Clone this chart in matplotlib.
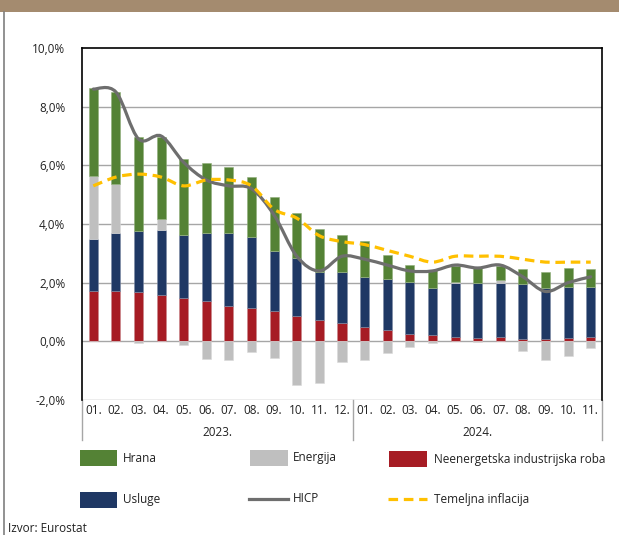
import numpy as np
import matplotlib
matplotlib.use("Agg")
import matplotlib.pyplot as plt
from matplotlib.path import Path
from matplotlib.patches import PathPatch, Rectangle
from matplotlib.lines import Line2D

plt.rcParams['font.family'] = ['Open Sans', 'DejaVu Sans']

months = ["01.", "02.", "03.", "04.", "05.", "06.", "07.", "08.", "09.", "10.", "11.", "12.",
          "01.", "02.", "03.", "04.", "05.", "06.", "07.", "08.", "09.", "10.", "11."]
years = ["2023.", "2024."]
yticklabels = ["-2,0%", "0,0%", "2,0%", "4,0%", "6,0%", "8,0%", "10,0%"]

neig = [1.70, 1.70, 1.67, 1.58, 1.49, 1.37, 1.21, 1.15, 1.02, 0.87, 0.73, 0.64,
        0.49, 0.40, 0.26, 0.20, 0.15, 0.12, 0.15, 0.08, 0.08, 0.10, 0.14]
services = [1.80, 2.00, 2.10, 2.21, 2.13, 2.32, 2.48, 2.41, 2.05, 1.96, 1.64, 1.72,
            1.71, 1.71, 1.76, 1.63, 1.83, 1.86, 1.83, 1.86, 1.75, 1.76, 1.72]
energy = [2.15, 1.65, -0.07, 0.37, -0.12, -0.60, -0.65, -0.38, -0.58, -1.50, -1.43, -0.71,
          -0.64, -0.39, -0.19, -0.07, 0.05, -0.03, 0.11, -0.32, -0.64, -0.49, -0.22]
food = [3.00, 3.15, 3.18, 2.79, 2.59, 2.40, 2.25, 2.03, 1.84, 1.54, 1.46, 1.27,
        1.22, 0.85, 0.59, 0.60, 0.55, 0.51, 0.49, 0.52, 0.54, 0.63, 0.60]
hicp = [8.6, 8.5, 6.9, 7.0, 6.1, 5.5, 5.3, 5.2, 4.3, 2.9, 2.4, 2.9,
        2.8, 2.6, 2.4, 2.4, 2.6, 2.5, 2.6, 2.2, 1.7, 2.0, 2.2]
core = [5.3, 5.6, 5.7, 5.6, 5.3, 5.5, 5.5, 5.3, 4.5, 4.2, 3.6, 3.4,
        3.3, 3.1, 2.9, 2.7, 2.9, 2.9, 2.9, 2.8, 2.7, 2.7, 2.7]

C_FOOD = "#548235"
C_ENERGY = "#bfbfbf"
C_NEIG = "#a61c24"
C_SERV = "#1f3864"
C_HICP = "#6e6e6e"
C_CORE = "#ffc000"

W, H = 619, 535
fig = plt.figure(figsize=(W / 100, H / 100), dpi=100)

# header band and left border
fig.patches.append(Rectangle((0, 1 - 12 / H), 1, 12 / H, transform=fig.transFigure,
                             facecolor="#a48b6f", edgecolor="none", zorder=0))
fig.lines.append(Line2D([4 / W, 4 / W], [0, 1 - 12 / H], transform=fig.transFigure,
                        color="#7f7f7f", lw=1.2))

ax = fig.add_axes([82 / W, 1 - 400 / H, 520 / W, 352 / H])
n = len(months)
x = np.arange(n)
ax.set_xlim(-0.5, n - 0.5)
ax.set_ylim(-2, 10)

for v in [-2, 0, 2, 4, 6, 8]:
    ax.axhline(v, color="#a6a6a6", lw=1.0, zorder=1)

neig_a = np.array(neig)
serv_a = np.array(services)
en_a = np.array(energy)
food_a = np.array(food)
en_pos = np.clip(en_a, 0, None)
en_neg = np.clip(en_a, None, 0)

bw = 0.40
kw = dict(width=bw, zorder=2, linewidth=0.4)
ax.bar(x, neig_a, color=C_NEIG, edgecolor="#c9868a", **kw)
ax.bar(x, serv_a, bottom=neig_a, color=C_SERV, edgecolor="#7d8aa3", **kw)
ax.bar(x, en_pos, bottom=neig_a + serv_a, color=C_ENERGY, edgecolor="#d9d9d9", **kw)
ax.bar(x, en_neg, color=C_ENERGY, edgecolor="#d9d9d9", **kw)
ax.bar(x, food_a, bottom=neig_a + serv_a + en_pos, color=C_FOOD, edgecolor="#8fae7a", **kw)


def smooth_path(xs, ys):
    pts = np.column_stack([xs, ys]).astype(float)
    verts = [pts[0]]
    codes = [Path.MOVETO]
    m = len(pts)
    for i in range(m - 1):
        p0 = pts[i - 1] if i > 0 else pts[i]
        p1 = pts[i]
        p2 = pts[i + 1]
        p3 = pts[i + 2] if i + 2 < m else pts[i + 1]
        c1 = p1 + (p2 - p0) / 6.0
        c2 = p2 - (p3 - p1) / 6.0
        verts += [c1, c2, p2]
        codes += [Path.CURVE4] * 3
    return Path(verts, codes)


ax.add_patch(PathPatch(smooth_path(x, hicp), facecolor="none", edgecolor=C_HICP,
                       lw=2.3, zorder=3, capstyle="round"))
ax.add_patch(PathPatch(smooth_path(x, core), facecolor="none", edgecolor=C_CORE,
                       lw=2.3, zorder=4, linestyle=(0, (3, 1.8))))

ax.set_xticks([])
ax.set_yticks([-2, 0, 2, 4, 6, 8, 10])
ax.set_yticklabels(yticklabels, fontsize=8.5, color="#222222")
ax.tick_params(axis="y", length=0, pad=12)
for s in ["left", "top", "right"]:
    ax.spines[s].set_color("black")
    ax.spines[s].set_linewidth(1.2)
ax.spines["bottom"].set_visible(False)

tr = ax.get_xaxis_transform()
for i, lab in enumerate(months):
    ax.text(i, -10 / 352, lab, transform=tr, ha="center", va="center",
            fontsize=8.5, color="#222222")
ax.text(5.5, -32 / 352, years[0], transform=tr, ha="center", va="center",
        fontsize=8.5, color="#222222")
ax.text(17, -32 / 352, years[1], transform=tr, ha="center", va="center",
        fontsize=8.5, color="#222222")
for xv in [-0.5, 11.5, n - 0.5]:
    ax.plot([xv, xv], [0, -40 / 352], transform=tr, color="#a6a6a6", lw=1.0,
            clip_on=False)

# legend
def fx(px):
    return px / W


def fy(py):
    return 1 - py / H


def patch(x0, x1, yc, color):
    fig.patches.append(Rectangle((fx(x0), fy(yc + 8)), fx(x1) - fx(x0), 16 / H,
                                 transform=fig.transFigure, facecolor=color,
                                 edgecolor="none"))


def label(x0, yc, txt):
    fig.text(fx(x0), fy(yc), txt, ha="left", va="center", fontsize=8.5, color="#222222")


patch(80, 117, 458, C_FOOD)
label(123, 458, "Hrana")
patch(250, 288, 458, C_ENERGY)
label(293, 458, "Energija")
patch(389, 427, 459, C_NEIG)
label(434, 459, "Neenergetska industrijska roba")
patch(80, 117, 499.5, C_SERV)
label(123, 499.5, "Usluge")
fig.lines.append(Line2D([fx(249), fx(288)], [fy(499), fy(499)], transform=fig.transFigure,
                        color=C_HICP, lw=2.3))
label(293, 499, "HICP")
fig.lines.append(Line2D([fx(388), fx(427)], [fy(499), fy(499)], transform=fig.transFigure,
                        color=C_CORE, lw=2.3, linestyle=(0, (3, 1.8))))
label(434, 499, "Temeljna inflacija")

fig.text(fx(8), fy(528), "Izvor: Eurostat", ha="left", va="center", fontsize=8.5,
         color="#222222")

fig.savefig("out.png", dpi=100)
